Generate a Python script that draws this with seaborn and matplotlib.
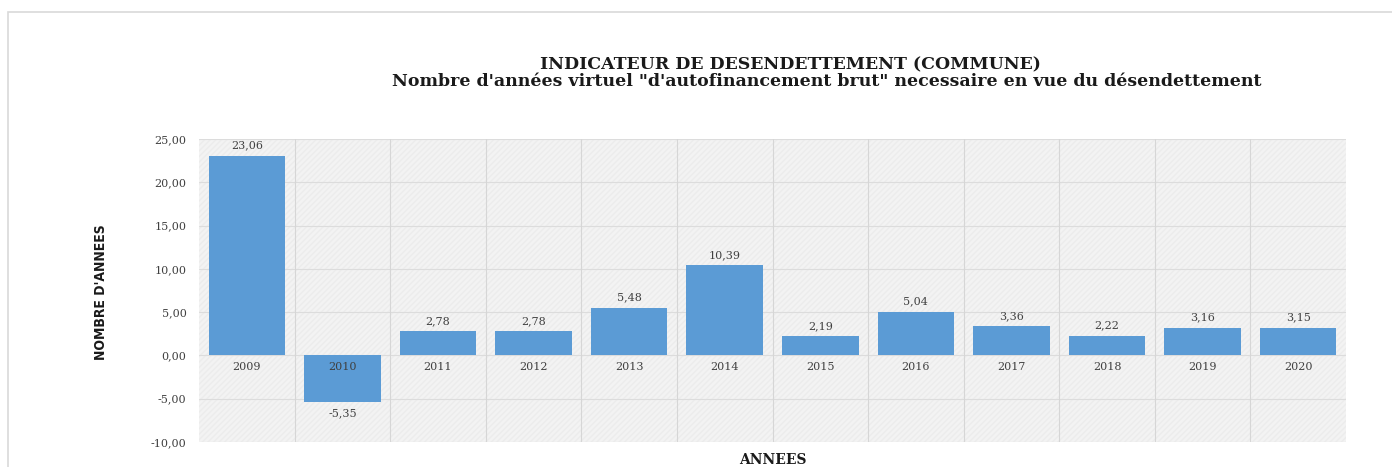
import matplotlib
matplotlib.use("Agg")
import matplotlib.pyplot as plt
from matplotlib.patches import Rectangle
import seaborn as sns
import pandas as pd

annees = ["2009", "2010", "2011", "2012", "2013", "2014",
          "2015", "2016", "2017", "2018", "2019", "2020"]
valeurs = [23.06, -5.35, 2.78, 2.78, 5.48, 10.39,
           2.19, 5.04, 3.36, 2.22, 3.16, 3.15]
y_ticks = [-10, -5, 0, 5, 10, 15, 20, 25]

df = pd.DataFrame({"annee": annees, "valeur": valeurs})

sns.set_theme(style="white")
plt.rcParams["font.family"] = ["DejaVu Serif"]

fig = plt.figure(figsize=(13.92, 4.67), dpi=100)
# light frame around the chart area
fig.patches.append(Rectangle((8 / 1392, -0.1), 1.1, 1 - 12 / 467 + 0.1,
                             transform=fig.transFigure, fill=False,
                             edgecolor="#d9d9d9", linewidth=1.2))

ax = fig.add_axes([199 / 1392, 1 - 442 / 467, (1346 - 199) / 1392, (442 - 139) / 467])
ax.set_facecolor("#f3f3f3")
ax.add_patch(Rectangle((0, 0), 1, 1, transform=ax.transAxes, fill=False,
                       hatch="//////", edgecolor="#ececec", linewidth=0, zorder=0))

sns.barplot(data=df, x="annee", y="valeur", color="#5B9BD5", saturation=1,
            width=0.8, linewidth=0, ax=ax, zorder=3)

ax.set_ylim(-10, 25)
ax.set_xlim(-0.5, len(annees) - 0.5)
ax.set_yticks(y_ticks)
ax.set_yticklabels([f"{v:.2f}".replace(".", ",") for v in y_ticks],
                   fontsize=8, color="#404040")
ax.yaxis.grid(True, color="#dcdcdc", linewidth=0.8)
for i in range(1, len(annees)):
    ax.axvline(i - 0.5, color="#d6d6d6", linewidth=0.8, zorder=1)
ax.set_axisbelow(True)

for s in ["top", "right", "left", "bottom"]:
    ax.spines[s].set_visible(False)
ax.set_xticks([])
ax.tick_params(axis="y", length=0, pad=9)

# category labels sit just under the zero line, above the bars
for i, a in enumerate(annees):
    ax.annotate(a, (i, 0), xytext=(0, -5), textcoords="offset points",
                ha="center", va="top", fontsize=8, color="#404040", zorder=6)

for i, v in enumerate(valeurs):
    txt = f"{v:.2f}".replace(".", ",")
    if v >= 0:
        ax.annotate(txt, (i, v), xytext=(0, 4), textcoords="offset points",
                    ha="center", va="bottom", fontsize=8, color="#404040")
    else:
        ax.annotate(txt, (i, v), xytext=(0, -5), textcoords="offset points",
                    ha="center", va="top", fontsize=8, color="#404040")

ax.set_xlabel("")
ax.set_ylabel("")
fig.text(101 / 1392, 1 - 292 / 467, "NOMBRE D'ANNEES", rotation=90,
         ha="center", va="center", fontsize=10, fontweight="bold",
         fontstretch="condensed", family=["DejaVu Sans"], color="#1a1a1a")
fig.text(773 / 1392, 1 - 460 / 467, "ANNEES", ha="center", va="center",
         fontsize=10, fontweight="bold", color="#1a1a1a")

fig.text(790 / 1392, 1 - 65 / 467, "INDICATEUR DE DESENDETTEMENT (COMMUNE)",
         ha="center", va="center", fontsize=12.5, fontweight="bold", color="#1a1a1a")
fig.text(827 / 1392, 1 - 81 / 467,
         "Nombre d'années virtuel \"d'autofinancement brut\" necessaire en vue du désendettement",
         ha="center", va="center", fontsize=12.5, fontweight="bold", color="#1a1a1a")

fig.savefig("out.png", dpi=100, facecolor="white")
